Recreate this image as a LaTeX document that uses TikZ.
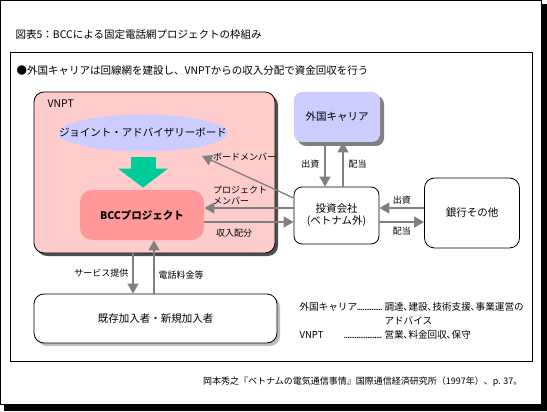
\documentclass[tikz,border=0pt]{standalone}
\usepackage{fontspec}
\setmainfont{Noto Sans CJK JP}
\definecolor{rose}{RGB}{255,204,204}
\definecolor{lavande}{RGB}{204,204,255}
\definecolor{vert}{RGB}{0,204,153}
\definecolor{saumon}{RGB}{255,153,153}
\definecolor{gris}{RGB}{128,128,128}
\definecolor{ombre}{RGB}{80,80,80}
\definecolor{ombreclair}{RGB}{190,190,190}
\usetikzlibrary{arrows.meta,positioning,calc,shapes.geometric,shadows}
\newcommand{\pointilles}{\leavevmode\cleaders\hbox to 1.8pt{\hss.\hss}\hfill\kern0pt}

\begin{document}
\begin{tikzpicture}[x=1pt,y=-1pt,font=\fontsize{10.5}{12}\selectfont,
	boite/.style={draw,line width=0.8pt,rounded corners=8pt,align=center},
	fleche/.style={gris,line width=1.3pt,-{Triangle[length=10pt,width=11pt]}},
	petit/.style={text=black,font=\fontsize{9}{11}\selectfont,inner sep=2pt},
	legende/.style={anchor=west,font=\fontsize{9.6}{12}\selectfont}]
				\useasboundingbox (0,0) rectangle (547,412);
				\fill[black] (4,4) rectangle (547,411);
				\draw[fill=white,line width=0.8pt] (0.4,0.4) rectangle (541,404.5);
				\draw[line width=0.8pt] (10,52) rectangle (532,361);
				\node[anchor=west] (titre) at (12,35)
				{図表5：BCCによる固定電話網プロジェクトの枠組み};
				\node[anchor=west] (resume) at (13,71)
				{●外国キャリアは回線網を建設し、VNPTからの収入分配で資金回収を行う};
				\node[boite,fill=rose,rounded corners=10pt,
				minimum width=241pt,minimum height=161pt,
				drop shadow={shadow xshift=3pt,shadow yshift=-3pt,fill=ombre,opacity=1}]
				(vnpt) at (154.5,172.5){};
				\node[anchor=west] (vnptnom) at (44,104){VNPT};
				\node[ellipse,fill=lavande,minimum width=169pt,minimum height=37pt,
				label={[inner sep=0pt]center:ジョイント・アドバイザリーボード}]
				(conseil) at (143,133){};
				\node[boite,draw=none,fill=saumon,rounded corners=12pt,
				minimum width=124pt,minimum height=50pt,font=\fontsize{10.5}{12}\selectfont\bfseries]
				(bcc) at (142,215){BCCプロジェクト};
				\node[boite,draw=none,fill=lavande,
				minimum width=86pt,minimum height=50pt,
				drop shadow={shadow xshift=4pt,shadow yshift=-4pt,fill=gris,opacity=1}]
				(carrier) at (337,117){外国キャリア};
				\node[boite,fill=white,
				minimum width=85pt,minimum height=57pt]
				(invest) at (336.5,215.5){投資会社\\(ベトナム外)};
				\node[boite,fill=white,rounded corners=10pt,
				minimum width=95pt,minimum height=70pt]
				(banque) at (472,213){銀行その他};
				\node[boite,fill=white,rounded corners=10pt,
				minimum width=243pt,minimum height=49pt,
				drop shadow={shadow xshift=3pt,shadow yshift=-3pt,fill=ombreclair,opacity=1}]
				(abonnes) at (155.5,318.5){既存加入者・新規加入者};
				\draw[draw=vert,line width=25pt,-{Triangle[length=19pt,width=49pt]},
				shorten <=5.5pt,shorten >=2pt]
				(conseil.south)--(conseil.south |- bcc.north);
				\coordinate (pointe) at (202,156);
				\draw[fleche]([yshift=17.5pt]invest.west)--(pointe);
				\node[petit,anchor=west] (bmlbl) at (211,157){ボードメンバー};
				\draw[fleche]([yshift=7.5pt]invest.west)--([yshift=7.5pt]invest.west -| bcc.east);
				\node[petit,anchor=west,align=left] (pmlbl) at (211,195){プロジェクト\\メンバー};
				\draw[fleche]([yshift=-6.5pt]invest.west -| bcc.east)--([yshift=-6.5pt]invest.west);
				\node[petit,anchor=west] (rvlbl) at (214,233){収入配分};
				\draw[fleche]([xshift=-12pt]carrier.south)--([xshift=-12pt]carrier.south |- invest.north)
				node[petit,midway,left=3pt]{出資};
				\draw[fleche]([xshift=6.5pt]invest.north)--([xshift=6.5pt]invest.north |- carrier.south)
				node[petit,midway,right=3pt]{配当};
				\draw[fleche]([yshift=5pt]banque.west)--([yshift=5pt]banque.west -| invest.east)
				node[petit,midway,above=1pt]{出資};
				\draw[fleche]([yshift=-9pt]banque.west -| invest.east)--([yshift=-9pt]banque.west)
				node[petit,midway,below=2pt]{配当};
				\draw[fleche]([xshift=-22.5pt]abonnes.north |- vnpt.south)--([xshift=-22.5pt]abonnes.north)
				node[petit,midway,left=2pt]{サービス提供};
				\draw[fleche]([xshift=12pt]bcc.south |- abonnes.north)--([xshift=12pt]bcc.south)
				node[petit,pos=0.35,right=2pt]{電話料金等};
				\node[legende] (legcar) at (296,307)
				{\makebox[85pt][l]{外国キャリア\pointilles\hspace{2pt}}調達､建設､技術支援､事業運営の};
				\node[legende] (legadv) at (381,321){アドバイス};
				\node[legende] (legvnpt) at (296,335)
				{\makebox[85pt][l]{VNPT\hspace{20pt}\pointilles\hspace{2pt}}営業､料金回収､保守};
				\node[anchor=east,font=\fontsize{9}{11}\selectfont] (source) at (526,382)
				{岡本秀之『ベトナムの電気通信事情』国際通信経済研究所（1997年）、p. 37。};
			\end{tikzpicture}
\end{document}
